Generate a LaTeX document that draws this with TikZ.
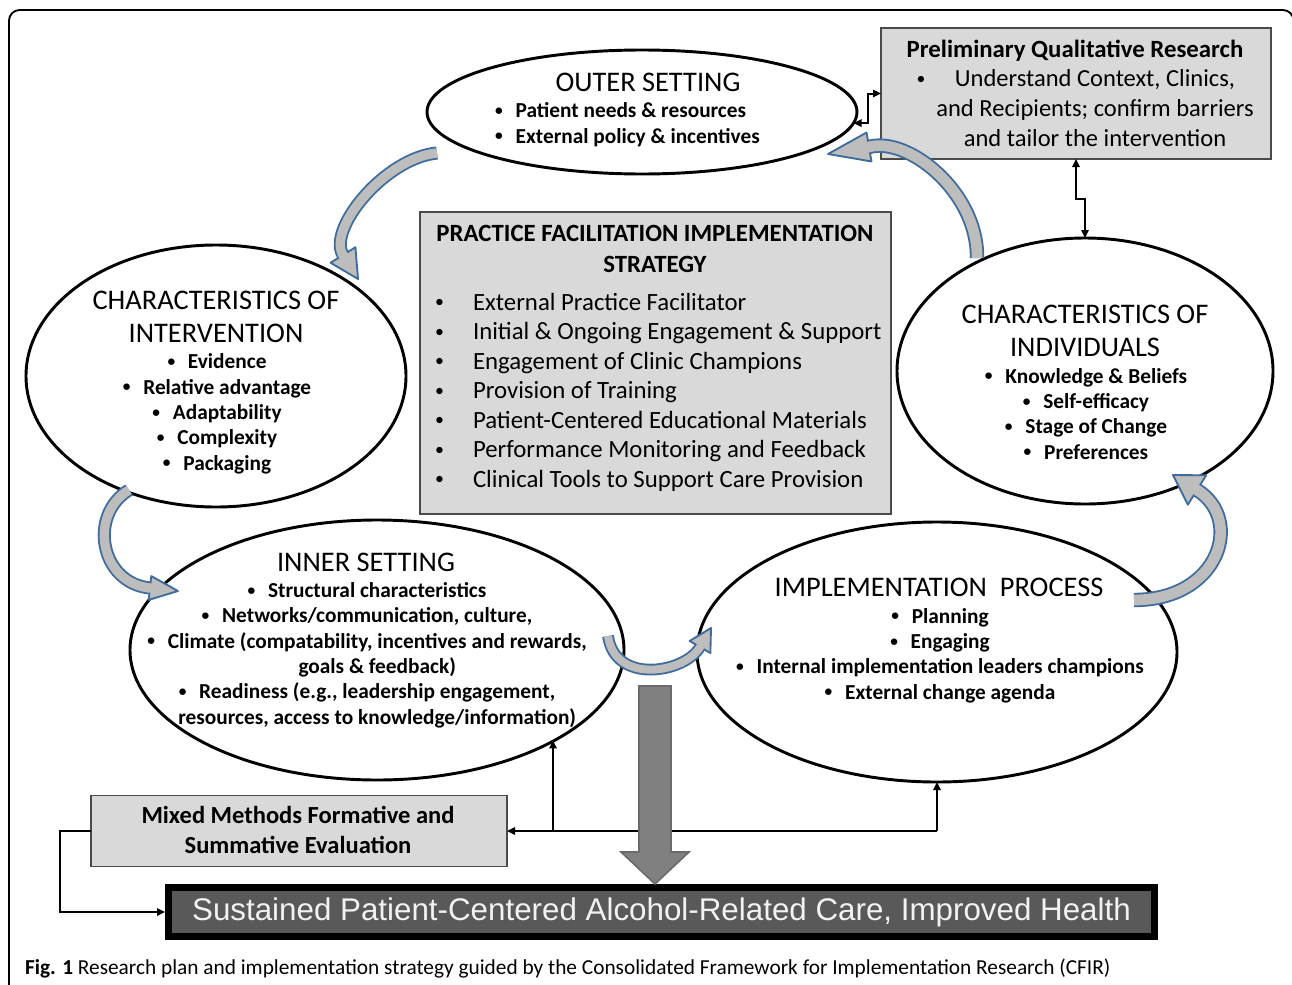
\documentclass[tikz,border=0pt]{standalone}
\usepackage{fontspec}
\usepackage{graphicx}
\setmainfont{Carlito}
\newfontfamily\arialfont{Liberation Sans}
\usetikzlibrary{shapes.geometric,calc,arrows.meta}

\definecolor{panelgray}{HTML}{D9D9D9}
\definecolor{panelline}{HTML}{4A4A4A}
\definecolor{flowfill}{HTML}{BDBDBD}
\definecolor{flowedge}{HTML}{3F6C9C}
\definecolor{bigfill}{HTML}{808080}
\definecolor{bigedge}{HTML}{6A6A6A}
\definecolor{outcomefill}{HTML}{595959}
\definecolor{outcometext}{HTML}{F2F2F2}

% bullet helpers
\newcommand{\smalldot}{\raisebox{0.1em}{\scalebox{0.72}{•}}}
\newcommand{\bul}{\smalldot\hspace{0.6em}}
\newcommand{\hangbul}[1]{\makebox[#1][l]{\smalldot}}

% fonts
\newcommand{\stagetitle}{\fontsize{21.3pt}{24.75pt}\selectfont}
\newcommand{\stageitems}{\bfseries\fontsize{16pt}{19pt}\selectfont}
\newcommand{\panelhead}{\bfseries\fontsize{18.6pt}{23.25pt}\selectfont}
\newcommand{\panelitems}{\fontsize{18.6pt}{22.1pt}\selectfont}
\newcommand{\sidetext}{\fontsize{18.4pt}{22.2pt}\selectfont}
\newcommand{\outcomefont}{\arialfont\fontsize{23.5pt}{28pt}\selectfont}
\newcommand{\captionfont}{\fontsize{16pt}{18pt}\selectfont}

% curved block arrow: start, control 1, control 2, head base, tip, body width, head half width
\newcommand{\flowarrow}[7]{%
  \draw[flowbody=#6] (#1) .. controls (#2) and (#3) .. (#4);
  \filldraw[flowhead] (#5) -- ($(#4)!#7!90:(#5)$) -- ($(#4)!#7!-90:(#5)$) -- cycle;
  \draw[flowfill, line width=#6] ($(#4)!-2pt!(#5)$) -- ($(#4)!3pt!(#5)$);
}

\tikzset{
  stage/.style={ellipse, draw=black, line width=2.2pt, inner sep=0pt, outer sep=0pt},
  panel/.style={rectangle, draw=panelline, fill=panelgray, line width=1.1pt, inner sep=0pt, outer sep=0pt},
  link/.style={line width=1.5pt, -{Triangle[length=6pt,width=5.5pt]}},
  linkboth/.style={line width=1.5pt, {Triangle[length=6pt,width=5.5pt]}-{Triangle[length=6pt,width=5.5pt]}},
  flowbody/.style={draw=flowedge, double=flowfill, line width=1.4pt, double distance=#1},
  flowhead/.style={draw=flowedge, fill=flowfill, line width=1.4pt, line join=round},
  txt/.style={inner sep=0pt, outer sep=0pt},
}

\begin{document}
\begin{tikzpicture}[x=0.75pt, y=-0.75pt]
\useasboundingbox (0,0) rectangle (1292,985);

% outer frame
\draw[line width=1.4pt, rounded corners=8pt] (9,1010) -- (9,10) -- (1293.5,10) -- (1293.5,1010);

% CFIR domains
\node[stage, minimum width=322.5pt, minimum height=93pt] (outer) at (642,112) {};
\node[stage, minimum width=285pt, minimum height=196.5pt] (interv) at (216,376) {};
\node[stage, minimum width=282pt, minimum height=199.5pt] (indiv) at (1085,371) {};
\node[stage, minimum width=370.5pt, minimum height=195pt] (inner) at (377,650) {};
\node[stage, minimum width=360pt, minimum height=195pt] (impl) at (937,652) {};

% domain texts (multi-line nodes are placed by the baseline of their last line)
\node[txt, anchor=base, font=\stagetitle] (outerT) at (648,91) {OUTER SETTING};
\node[txt, anchor=base west, align=left, font=\stageitems] (outerL) at (495,143)
  {\hangbul{15.5pt}Patient needs \& resources\\\hangbul{15.5pt}External policy \& incentives};

\node[txt, anchor=base, align=center, font=\stagetitle] (intervT) at (216,342)
  {CHARACTERISTICS OF\\INTERVENTION};
\node[txt, anchor=base, align=center, font=\stageitems] (intervL) at (217,470)
  {\bul Evidence\\\bul Relative advantage\\\bul Adaptability\\\bul Complexity\\\bul Packaging};

\node[txt, anchor=base, align=center, font=\stagetitle] (indivT) at (1085,356)
  {CHARACTERISTICS OF\\INDIVIDUALS};
\node[txt, anchor=base, align=center, font=\stageitems] (indivL) at (1086,459)
  {\bul Knowledge \& Beliefs\\\bul Self-efficacy\\\bul Stage of Change\\\bul Preferences};

\node[txt, anchor=base, font=\stagetitle] (innerT) at (366,571) {INNER SETTING};
\node[txt, anchor=base, align=center, font=\stageitems] (innerL) at (367,724)
  {\bul Structural characteristics\\
   \bul Networks/communication, culture,\\
   \bul Climate (compatability, incentives and rewards,\\
   \phantom{\bul}goals \& feedback)\\
   \bul Readiness (e.g., leadership engagement,\\
   \phantom{\bul}resources, access to knowledge/information)};

\node[txt, anchor=base, font=\stagetitle] (implT) at (939,596) {IMPLEMENTATION\ \ PROCESS};
\node[txt, anchor=base, align=center, font=\stageitems] (implL) at (940,699)
  {\bul Planning\\\bul Engaging\\\bul Internal implementation leaders champions\\\bul External change agenda};

% strategy panel
\node[panel, minimum width=353.25pt, minimum height=226.5pt] (strategy) at (655.5,363) {};
\node[txt, anchor=base, align=center, font=\panelhead] (strategyT) at (655,272)
  {PRACTICE FACILITATION IMPLEMENTATION\\STRATEGY};
\node[txt, anchor=base west, align=left, font=\panelitems] (strategyL) at (435,487)
  {\hangbul{28.5pt}External Practice Facilitator\\
   \hangbul{28.5pt}Initial \& Ongoing Engagement \& Support\\
   \hangbul{28.5pt}Engagement of Clinic Champions\\
   \hangbul{28.5pt}Provision of Training\\
   \hangbul{28.5pt}Patient-Centered Educational Materials\\
   \hangbul{28.5pt}Performance Monitoring and Feedback\\
   \hangbul{28.5pt}Clinical Tools to Support Care Provision};

% preliminary research panel
\node[panel, minimum width=292.5pt, minimum height=98.25pt] (prelim) at (1076,93.5) {};
\node[txt, anchor=base, font=\panelhead] (prelimT) at (1075,57) {Preliminary Qualitative Research};
\node[txt, anchor=base, font=\sidetext] (prelimB) at (921,87) {\smalldot};
\node[txt, anchor=base, align=center, font=\sidetext] (prelimL) at (1095,146)
  {Understand Context, Clinics,\\and Recipients; confirm barriers\\and tailor the intervention};

% evaluation panel
\node[panel, minimum width=312pt, minimum height=53.25pt] (mixed) at (299,831) {};
\node[txt, anchor=base, align=center, font=\panelhead\fontsize{18.4pt}{22.5pt}\selectfont] (mixedT) at (298,853)
  {Mixed Methods Formative and\\Summative Evaluation};

% outcome bar
\node[rectangle, draw=black, line width=5.25pt, fill=outcomefill, minimum width=739.5pt,
      minimum height=36.75pt, inner sep=0pt, outer sep=2.6pt, text=outcometext, font=\outcomefont]
  (outcome) at (661.5,912) {Sustained Patient-Centered Alcohol-Related Care, Improved Health};

% feedback connectors
\draw[linkboth] (outer.-3) -- ++(14,0) |- (prelim.west);
\draw[linkboth] (prelim.south) -- ++(0,40) -| (indiv.north);
\coordinate (tap) at (553,831);
\draw[link] (impl.south |- mixed.east) -- (mixed.east);
\draw[link] (impl.south |- mixed.east) -- (impl.south);
\draw[link] (tap) -- (tap |- inner.-27);
\draw[link] (mixed.west) -- ++(-31,0) |- (outcome.west);

% strategy arrow into the outcome
\coordinate (bigtip) at (655,884);
\filldraw[fill=bigfill, draw=bigedge, line width=1.2pt, line join=miter]
  (bigtip) -- ++(34,-32) -- ++(-18,0) -- ++(0,-166) -- ++(-32,0) -- ++(0,166) -- ++(-18,0) -- cycle;

% cycle of curved arrows between domains
\coordinate (aS) at (437,153); \coordinate (a1) at (385,158); \coordinate (a2) at (327,229);
\coordinate (aP) at (343,255); \coordinate (aT) at (358,279);
\flowarrow{aS}{a1}{a2}{aP}{aT}{7pt}{11pt}

\coordinate (cS) at (129,490); \coordinate (c1) at (88,515); \coordinate (c2) at (100,583);
\coordinate (cP) at (150,588); \coordinate (cT) at (178,591);
\flowarrow{cS}{c1}{c2}{cP}{cT}{7pt}{9pt}

\coordinate (dS) at (608,636); \coordinate (d1) at (615,685); \coordinate (d2) at (685,673);
\coordinate (dP) at (700,647); \coordinate (dT) at (711,628);
\flowarrow{dS}{d1}{d2}{dP}{dT}{6pt}{9pt}

\coordinate (eS) at (1134,600); \coordinate (e1) at (1220,600); \coordinate (e2) at (1244,519);
\coordinate (eP) at (1197,490); \coordinate (eT) at (1173,475);
\flowarrow{eS}{e1}{e2}{eP}{eT}{8pt}{13pt}

\coordinate (bS) at (977,258); \coordinate (b1) at (978,192); \coordinate (b2) at (908,136);
\coordinate (bP) at (869,147); \coordinate (bT) at (828,154);
\flowarrow{bS}{b1}{b2}{bP}{bT}{8pt}{11pt}

% caption
\node[txt, anchor=base west, font=\captionfont] (caption) at (25,974)
  {\textbf{Fig. 1} Research plan and implementation strategy guided by the Consolidated Framework for Implementation Research (CFIR)};
\end{tikzpicture}
\end{document}
